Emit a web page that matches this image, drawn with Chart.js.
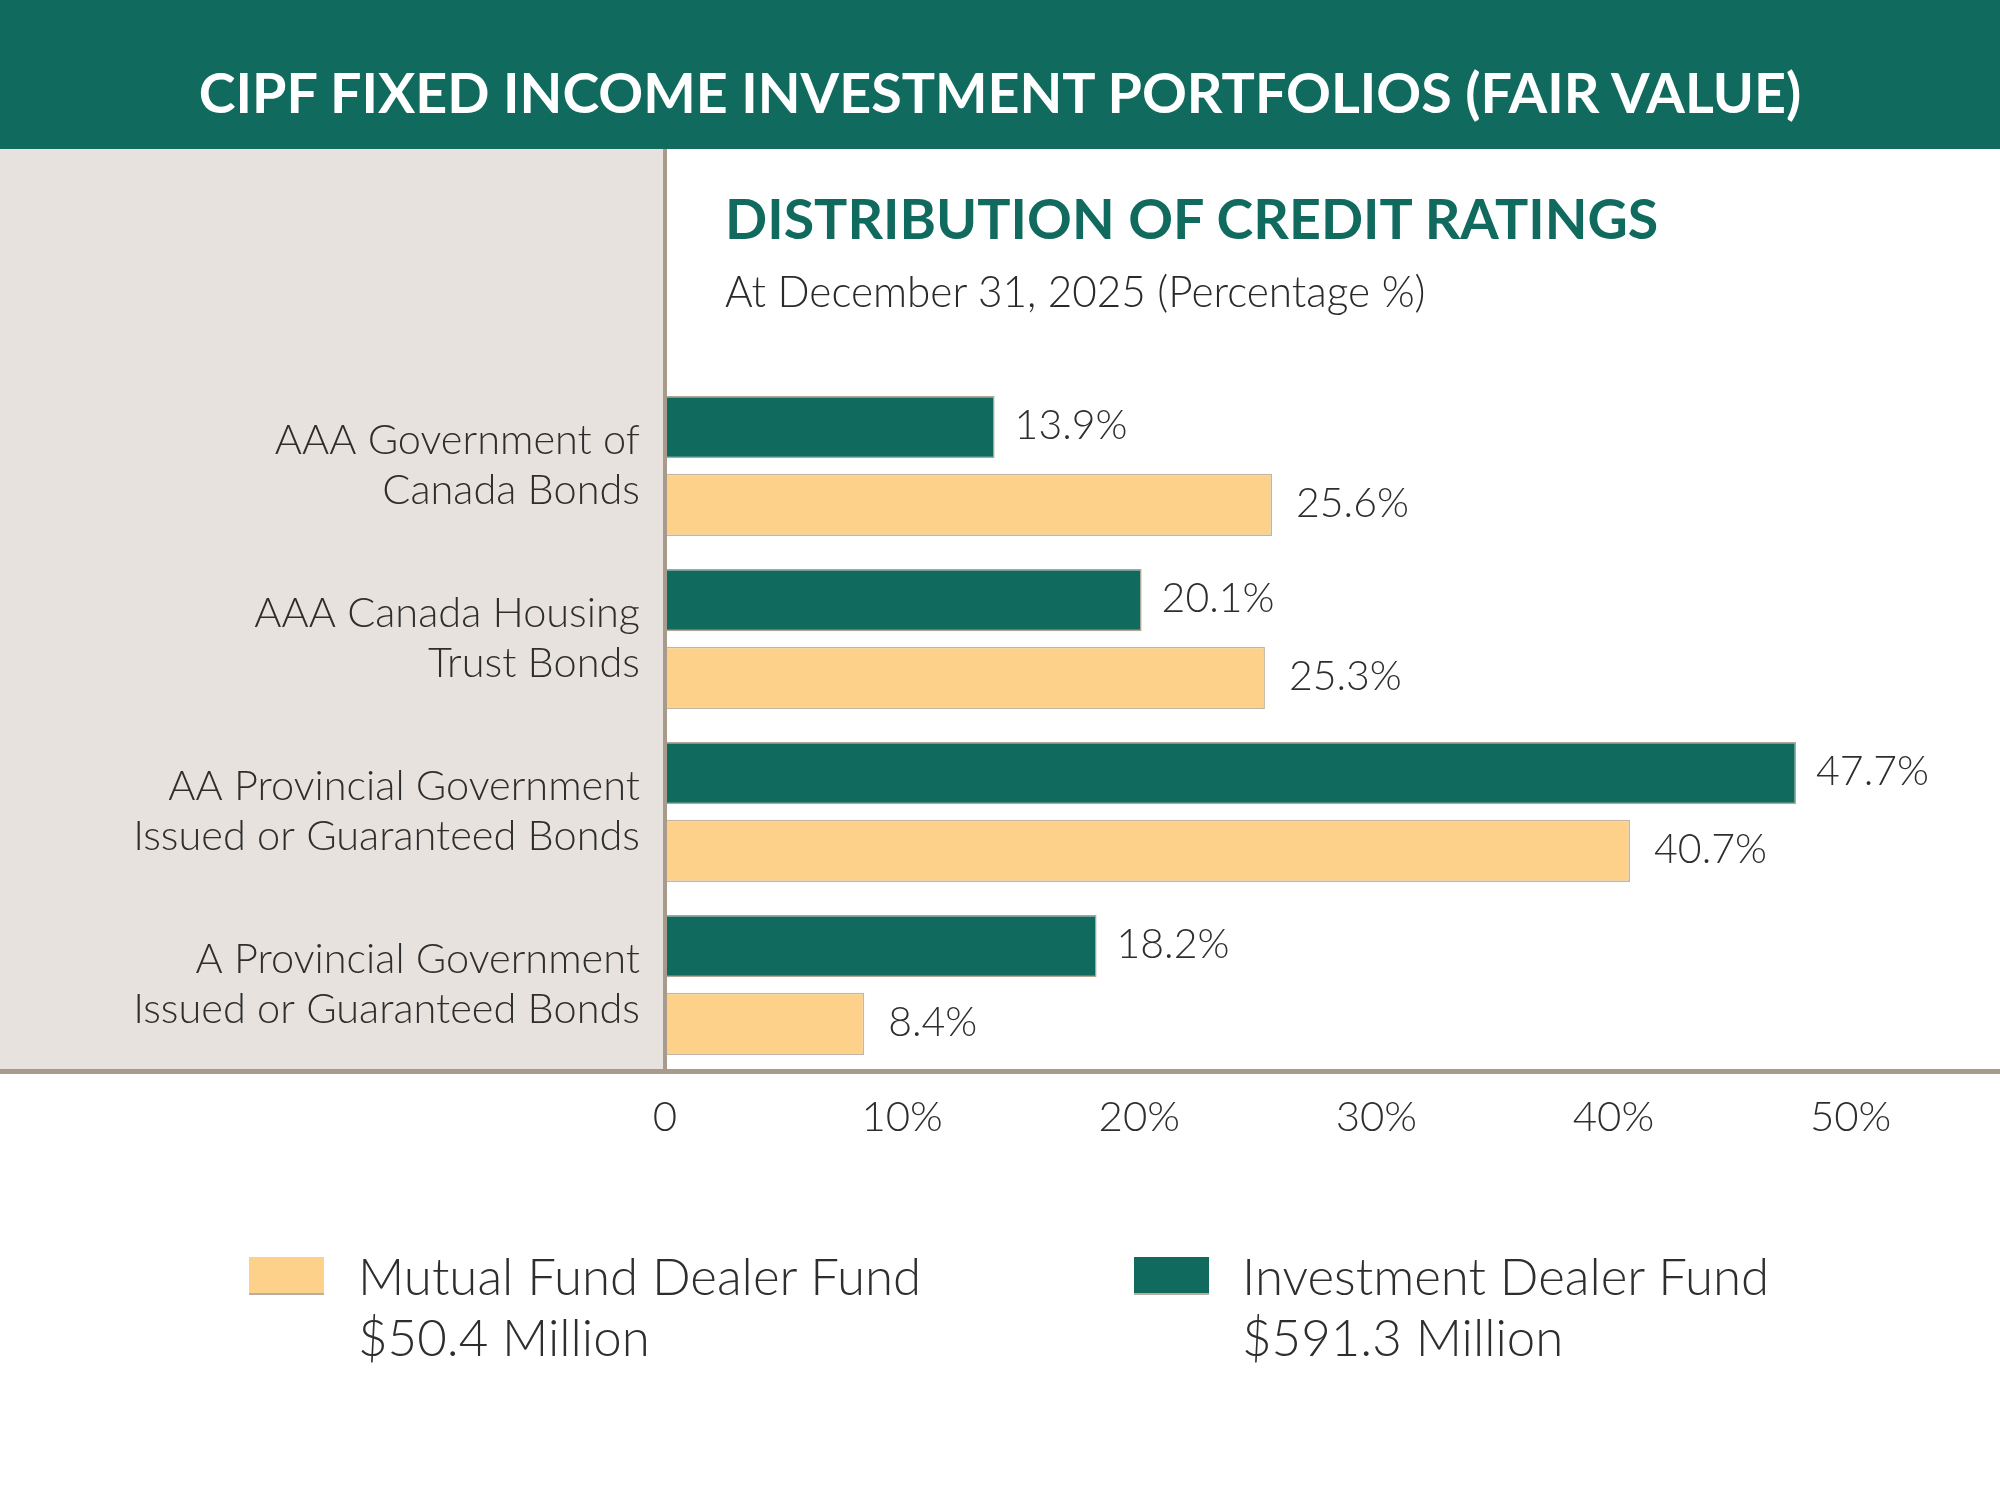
<!DOCTYPE html>
<html lang="en">
<head>
    <meta charset="UTF-8">
    <title>CIPF Fixed Income Investment Portfolios</title>
    <script src="https://cdn.jsdelivr.net/npm/chart.js"></script>
    <style>
        html, body {
            margin: 0;
            padding: 0;
            background: #ffffff;
            font-family: 'Lato', 'Noto Sans', sans-serif;
        }
        .page {
            position: relative;
            width: 2000px;
            height: 1500px;
            overflow: hidden;
            background: #ffffff;
        }
        .header {
            position: absolute;
            left: 0;
            top: 0;
            width: 2000px;
            height: 149px;
            background: #106a5e;
        }
        .header h1 {
            position: absolute;
            left: 0;
            width: 2000px;
            top: 64px;
            margin: 0;
            text-align: center;
            color: #ffffff;
            font-weight: 700;
            font-size: 55.6px;
            line-height: 56px;
        }
        .chart-wrap {
            position: absolute;
            left: 0;
            top: 149px;
            width: 2000px;
            height: 1051px;
        }
        .subtitle {
            position: absolute;
            left: 725px;
            top: 190px;
            margin: 0;
            color: #106a5e;
            font-weight: 700;
            font-size: 55.5px;
            line-height: 56px;
            white-space: nowrap;
        }
        .note {
            position: absolute;
            left: 725px;
            top: 266px;
            margin: 0;
            color: #2a2a2a;
            font-weight: 300;
            font-size: 42.3px;
            line-height: 50px;
            white-space: nowrap;
        }
        .legend-item {
            position: absolute;
            top: 1245px;
        }
        .legend-item .swatch {
            position: absolute;
            top: 12px;
            width: 75px;
            height: 38px;
            box-sizing: border-box;
            border-bottom: 2px solid #b9ad9f;
        }
        .legend-item .text {
            position: absolute;
            top: 0;
            color: #2e2e2e;
            font-weight: 300;
            font-size: 51px;
            line-height: 61px;
            white-space: nowrap;
        }
    </style>
</head>
<body>
<div class="page">
    <div class="header"><h1>CIPF FIXED INCOME INVESTMENT PORTFOLIOS (FAIR VALUE)</h1></div>
    <div class="chart-wrap">
        <canvas id="ratingsChart" width="2000" height="1051"></canvas>
    </div>
    <div class="subtitle">DISTRIBUTION OF CREDIT RATINGS</div>
    <div class="note">At December 31, 2025 (Percentage %)</div>
    <div id="legend"></div>
</div>

<script>
    // values
    const categories = [
        ['AAA Government of', 'Canada Bonds'],
        ['AAA Canada Housing', 'Trust Bonds'],
        ['AA Provincial Government', 'Issued or Guaranteed Bonds'],
        ['A Provincial Government', 'Issued or Guaranteed Bonds']
    ];
    const investmentDealer = [13.9, 20.1, 47.7, 18.2];
    const mutualFundDealer = [25.6, 25.3, 40.7, 8.4];
    const xTicks = [0, 10, 20, 30, 40, 50];

    const seriesNames = ['Investment Dealer Fund', 'Mutual Fund Dealer Fund'];
    const fundSizes = ['$591.3 Million', '$50.4 Million'];

    const GREEN = '#106a5e';
    const YELLOW = '#fdd189';
    const RULE = '#a89b8c';
    const PANEL = '#e7e2de';
    const TEXT = '#2e2e2e';

    // grey panel behind the category labels plus the two rules
    const framePlugin = {
        id: 'frame',
        beforeDraw(chart) {
            const { ctx, chartArea } = chart;
            ctx.save();
            ctx.fillStyle = PANEL;
            ctx.fillRect(0, 0, chartArea.left, chartArea.bottom);
            ctx.restore();
        },
        afterDatasetsDraw(chart) {
            const { ctx, chartArea, width } = chart;
            ctx.save();
            ctx.strokeStyle = RULE;
            ctx.lineWidth = 4;
            ctx.beginPath();
            ctx.moveTo(chartArea.left, 0);
            ctx.lineTo(chartArea.left, chartArea.bottom);
            ctx.stroke();
            ctx.lineWidth = 5;
            ctx.beginPath();
            ctx.moveTo(0, chartArea.bottom);
            ctx.lineTo(width, chartArea.bottom);
            ctx.stroke();
            ctx.restore();
        }
    };

    // value labels at the end of each bar
    const labelGap = [20, 24];
    const valueLabels = {
        id: 'valueLabels',
        afterDatasetsDraw(chart) {
            const { ctx } = chart;
            ctx.save();
            ctx.font = '300 41px Lato, "Noto Sans", sans-serif';
            ctx.fillStyle = TEXT;
            ctx.textAlign = 'left';
            ctx.textBaseline = 'middle';
            chart.data.datasets.forEach((ds, i) => {
                chart.getDatasetMeta(i).data.forEach((bar, j) => {
                    ctx.fillText(ds.data[j].toFixed(1) + '%', bar.x + labelGap[i], bar.y - 1);
                });
            });
            ctx.restore();
        }
    };

    const ctx = document.getElementById('ratingsChart').getContext('2d');
    new Chart(ctx, {
        type: 'bar',
        data: {
            labels: categories,
            datasets: [{
                label: seriesNames[0],
                data: investmentDealer,
                backgroundColor: GREEN,
                borderColor: '#b2a696',
                borderWidth: 1.5,
                categoryPercentage: 0.9,
                barPercentage: 0.8
            }, {
                label: seriesNames[1],
                data: mutualFundDealer,
                backgroundColor: YELLOW,
                borderColor: '#c2b5a3',
                borderWidth: 1.5,
                categoryPercentage: 0.9,
                barPercentage: 0.8
            }]
        },
        options: {
            indexAxis: 'y',
            responsive: false,
            devicePixelRatio: 1,
            animation: false,
            layout: { padding: { top: 230.5, left: 0, right: 0, bottom: 0 } },
            plugins: {
                legend: { display: false },
                tooltip: { enabled: false }
            },
            scales: {
                x: {
                    min: 0,
                    max: 56.3,
                    grid: { display: false, drawTicks: false },
                    border: { display: false },
                    afterBuildTicks: axis => {
                        axis.ticks = xTicks.map(v => ({ value: v }));
                    },
                    afterFit: scale => { scale.height = 128.5; },
                    ticks: {
                        padding: 21,
                        color: TEXT,
                        font: { family: 'Lato', size: 42, weight: '300' },
                        maxRotation: 0,
                        callback: v => v === 0 ? '0' : v + '%'
                    }
                },
                y: {
                    grid: { display: false, drawTicks: false },
                    border: { display: false },
                    afterFit: scale => { scale.width = 665; },
                    ticks: {
                        padding: 25,
                        color: TEXT,
                        font: { family: 'Lato', size: 41.5, weight: '300', lineHeight: 1.2 }
                    }
                }
            }
        },
        plugins: [framePlugin, valueLabels]
    });

    // legend: mutual fund first, then investment dealer
    const legendSpots = [
        { series: 1, colour: YELLOW, swatchLeft: 249, textLeft: 358 },
        { series: 0, colour: GREEN, swatchLeft: 1134, textLeft: 1242 }
    ];
    const legend = document.getElementById('legend');
    legendSpots.forEach(spot => {
        const item = document.createElement('div');
        item.className = 'legend-item';
        item.innerHTML =
            '<div class="swatch" style="left:' + spot.swatchLeft + 'px;background:' + spot.colour + '"></div>' +
            '<div class="text" style="left:' + spot.textLeft + 'px">' +
            seriesNames[spot.series] + '<br>' + fundSizes[spot.series] + '</div>';
        legend.appendChild(item);
    });
</script>
</body>
</html>
